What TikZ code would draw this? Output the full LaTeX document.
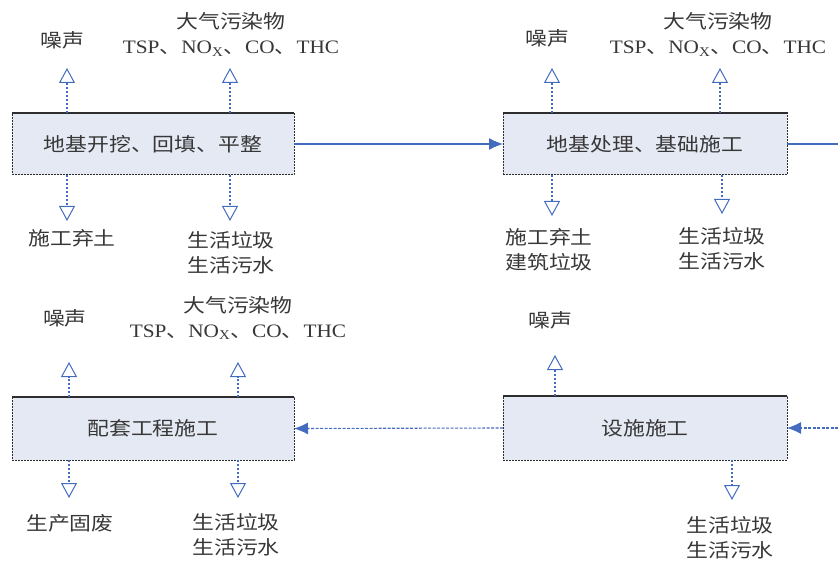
\documentclass[tikz,border=0pt]{standalone}
\usepackage{fontspec}
\setmainfont{Liberation Serif}[FakeStretch=1.12]
\newfontfamily\cjk{Noto Sans CJK SC}[FakeStretch=1.15]
\usetikzlibrary{arrows.meta}
\definecolor{boxfill}{RGB}{229,233,243}
\definecolor{boxline}{RGB}{45,45,45}
\definecolor{flow}{RGB}{68,108,190}
\definecolor{txt}{RGB}{55,55,55}
\newcommand\lat[1]{{\rmfamily #1}}
\newcommand\pollut{大气污染物\\\lat{TSP}、\lat{NO\textsubscript{X}}、\lat{CO}、\lat{THC}}
\begin{document}
\begin{tikzpicture}[x=1pt,y=-1pt,
  every node/.style={inner sep=0pt, outer sep=0pt, text=txt, font=\cjk\fontsize{19}{25}\selectfont, align=center},
  box/.style={fill=boxfill, draw=boxline, line width=1pt, dash pattern=on 2pt off 1pt, minimum height=62pt},
  emit/.style={draw=flow, line width=1.1pt, dash pattern=on 2pt off 2pt, -{Triangle[open,length=15pt,width=16pt,line width=1pt]}},
  mainflow/.style={draw=flow, line width=1.1pt, -{Latex[length=14pt,width=12pt]}},
  mainflowdash/.style={draw=flow, line width=1.1pt, dash pattern=on 3pt off 1.5pt, -{Latex[length=14pt,width=12pt]}}
]
\useasboundingbox (0,0) rectangle (838,564);
% boxes
\node[box, minimum width=282pt] (b1) at (153,144) {地基开挖、回填、平整};
\node[box, minimum width=284pt] (b2) at (645,144) {地基处理、基础施工};
\node[box, minimum width=282pt, minimum height=63pt] (b3) at (153,428.5) {配套工程施工};
\node[box, minimum width=284pt, minimum height=64pt] (b4) at (645,428) {设施施工};
\foreach \b in {b1,b2,b3,b4}{\draw[boxline, line width=1.3pt] (\b.north west) -- (\b.north east);}
% labels box1
\node (l1a) at (62,40) {噪声};
\node (l1b) at (231,34.5) {\pollut};
\node (l1c) at (72,238) {施工弃土};
\node (l1d) at (231,253) {生活垃圾\\生活污水};
% labels box2
\node (l2a) at (547,38) {噪声};
\node (l2b) at (718,34.5) {\pollut};
\node (l2c) at (549,250) {施工弃土\\建筑垃圾};
\node (l2d) at (722,249) {生活垃圾\\生活污水};
% labels box3
\node (l3a) at (65,318) {噪声};
\node (l3b) at (238,318) {\pollut};
\node (l3c) at (70,523) {生产固废};
\node (l3d) at (236,534.5) {生活垃圾\\生活污水};
% labels box4
\node (l4a) at (550,320) {噪声};
\node (l4d) at (730,537.5) {生活垃圾\\生活污水};
% arrow tips
\coordinate (t1a) at (67,68);
\coordinate (t1b) at (230,68);
\coordinate (t1c) at (67,221);
\coordinate (t1d) at (230,221);
\coordinate (t2a) at (552,68);
\coordinate (t2b) at (720,68);
\coordinate (t2c) at (552,216);
\coordinate (t2d) at (722,214);
\coordinate (t3a) at (69,362);
\coordinate (t3b) at (238,362);
\coordinate (t3c) at (69,498);
\coordinate (t3d) at (238,498);
\coordinate (t4a) at (555,355);
\coordinate (t4d) at (732,500);
% emission arrows
\draw[emit] (b1.north -| t1a) -- (t1a);
\draw[emit] (b1.north -| t1b) -- (t1b);
\draw[emit] (b1.south -| t1c) -- (t1c);
\draw[emit] (b1.south -| t1d) -- (t1d);
\draw[emit] (b2.north -| t2a) -- (t2a);
\draw[emit] (b2.north -| t2b) -- (t2b);
\draw[emit] (b2.south -| t2c) -- (t2c);
\draw[emit] (b2.south -| t2d) -- (t2d);
\draw[emit] (b3.north -| t3a) -- (t3a);
\draw[emit] (b3.north -| t3b) -- (t3b);
\draw[emit] (b3.south -| t3c) -- (t3c);
\draw[emit] (b3.south -| t3d) -- (t3d);
\draw[emit] (b4.north -| t4a) -- (t4a);
\draw[emit] (b4.south -| t4d) -- (t4d);
% main flow
\coordinate (outR) at (838,144);
\coordinate (inR) at (838,428);
\draw[mainflow] (b1.east) -- (b2.west);
\draw[draw=flow, line width=1.1pt] (b2.east) -- (outR);
\draw[mainflowdash] (inR) -- (b4.east);
\draw[mainflowdash] (b4.west) -- (b3.east);
\end{tikzpicture}
\end{document}
